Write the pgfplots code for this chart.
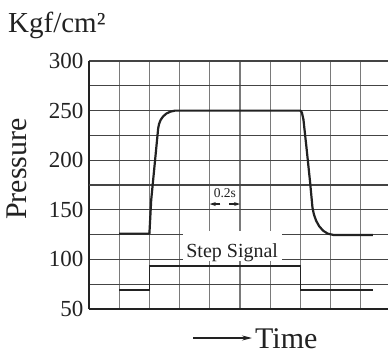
\documentclass[border=0pt]{standalone}
\usepackage{fontspec}
\setmainfont{Liberation Serif}
\usepackage{pgfplots}
\pgfplotsset{compat=1.18}
\usetikzlibrary{arrows.meta}
\definecolor{ink}{HTML}{222222}
\definecolor{hgrid}{HTML}{444444}
\definecolor{vgrid}{HTML}{7A7A7A}
\begin{document}
\begin{tikzpicture}
\useasboundingbox (-89pt,-47pt) rectangle (299pt,309pt);
\begin{axis}[
  scale only axis, width=299pt, height=248pt,
  xmin=0, xmax=9.9, ymin=50, ymax=300,
  axis x line*=bottom, axis y line*=left,
  axis line style={-, line width=2pt, color=ink},
  xtick={1,2,3,4,5,6,7,8,9}, xticklabels={},
  ytick={50,75,100,125,150,200,225,250,275,300},
  yticklabels={50,,100,,150,200,,250,,300},
  extra y ticks={175}, extra y tick labels={},
  xmajorgrids, ymajorgrids,
  x grid style={vgrid, line width=1.2pt},
  y grid style={hgrid, line width=1.1pt},
  extra y tick style={grid=major, major grid style={hgrid, line width=1.1pt}},
  major tick length=0pt,
  tick label style={font=\fontsize{23}{23}\selectfont, text=ink},
  /pgf/number format/assume math mode=true,
  yticklabel style={xshift=-2pt},
]
\node[fill=white, inner xsep=0pt, inner ysep=0pt, text height=26pt, text depth=4pt,
      minimum width=99pt, anchor=base, font=\fontsize{20}{20}\selectfont, text=ink]
  at (axis cs:4.74,102.4) {Step Signal};
\node[anchor=base, font=\fontsize{13.5}{13.5}\selectfont, text=ink, inner sep=0pt]
  at (axis cs:4.5,162.6) {0.2s};
\draw[ink, line width=1.1pt, -{Stealth[length=6pt,width=4pt]}] (axis cs:4.35,155.8) -- (axis cs:4.0,155.8);
\draw[ink, line width=1.1pt, -{Stealth[length=6pt,width=4pt]}] (axis cs:4.65,155.8) -- (axis cs:5.0,155.8);
\addplot[ink, line width=2.2pt, line join=round] coordinates {
  (1,126) (2.0,126) (2.06,160) (2.29,232) (2.32,236.5) (2.37,240.5) (2.45,244)
  (2.56,247) (2.7,249) (2.85,250) (7.0,250) (7.05,248) (7.1,241) (7.2,213)
  (7.32,178) (7.4,152) (7.45,145) (7.52,139) (7.62,133.5) (7.75,129) (7.9,126)
  (8.1,124.6) (8.3,124.5) (9.4,124.5)
};
\addplot[ink, line width=1.8pt, line join=miter] coordinates {
  (1,69.5) (2.0,69.5) (2.0,93.5) (7.0,93.5) (7.0,69.5) (9.4,69.5)
};
\end{axis}
\node[anchor=base west, font=\fontsize{29}{29}\selectfont, text=ink, inner sep=0pt]
  at (-81pt,276pt) {Kgf/cm²};
\node[rotate=90, anchor=base, font=\fontsize{30}{30}\selectfont, text=ink, inner sep=0pt]
  at (-62pt,140pt) {Pressure};
\node[anchor=base west, font=\fontsize{30}{30}\selectfont, text=ink, inner sep=0pt]
  at (166pt,-39pt) {Time};
\draw[ink, line width=1.3pt, -{Stealth[length=10pt,width=5pt]}] (104pt,-29pt) -- (163pt,-29pt);
\end{tikzpicture}
\end{document}
